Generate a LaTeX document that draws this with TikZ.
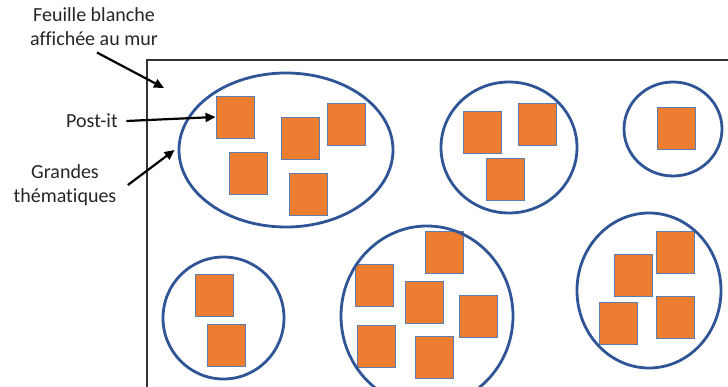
\documentclass[tikz,border=0pt]{standalone}
\usepackage{fontspec}
\setmainfont{Carlito}[Ligatures=NoCommon]
\usetikzlibrary{shapes.geometric,arrows.meta}
\definecolor{ringblue}{HTML}{2F5597}
\definecolor{postorange}{HTML}{ED7D31}
\definecolor{postedge}{HTML}{5B7DB0}
\definecolor{inkgray}{HTML}{262626}
\begin{document}
\begin{tikzpicture}[x=1pt,y=-1pt,
  postit/.style={rectangle,draw=postedge,line width=0.9pt,fill=postorange,
    minimum width=38pt,minimum height=42pt,inner sep=0pt},
  ring/.style={ellipse,draw=ringblue,line width=2.8pt,inner sep=0pt},
  lbl/.style={font=\fontsize{20}{24}\selectfont,align=center,text=inkgray},
  arr/.style={draw=black,line width=2.2pt,-{Triangle[length=10pt,width=9pt]}}]
\useasboundingbox (0,0) rectangle (728,387);
\clip (0,0) rectangle (728,387);
\fill[white] (0,0) rectangle (728,387);
% sheet of paper
\draw[draw=black!80,line width=1.4pt] (147,60) rectangle (760,420);
% post-its
\node[postit] (a1) at (235,117) {};
\node[postit] (a2) at (300,138) {};
\node[postit] (a3) at (346.5,124) {};
\node[postit] (a4) at (248.5,173) {};
\node[postit] (a5) at (308,194) {};
\node[postit] (b1) at (482,132) {};
\node[postit] (b2) at (537.5,124.5) {};
\node[postit] (b3) at (505,179.5) {};
\node[postit] (c1) at (676,128.5) {};
\node[postit] (d1) at (214,295) {};
\node[postit] (d2) at (226,345.5) {};
\node[postit] (e1) at (444,252) {};
\node[postit] (e2) at (374,285) {};
\node[postit] (e3) at (424,302.5) {};
\node[postit] (e4) at (478,316) {};
\node[postit] (e5) at (376,346) {};
\node[postit] (e6) at (434,357.5) {};
\node[postit] (f1) at (675.5,252) {};
\node[postit] (f2) at (633,275.5) {};
\node[postit] (f3) at (618,323) {};
\node[postit] (f4) at (675.5,317.5) {};
% themes
\node[ring,minimum width=214pt,minimum height=154pt] (g1) at (286,150) {};
\node[ring,minimum width=136pt,minimum height=131pt] (g2) at (509,147.5) {};
\node[ring,minimum width=98pt,minimum height=94pt] (g3) at (673,129) {};
\node[ring,minimum width=121pt,minimum height=122pt] (g4) at (223.5,318) {};
\node[ring,minimum width=172pt,minimum height=180pt] (g5) at (427,316) {};
\node[ring,minimum width=144pt,minimum height=155pt] (g6) at (649,290.5) {};
% labels
\node[lbl] (feuille) at (94,27) {Feuille blanche\\affichée au mur};
\node[lbl] (postitlbl) at (92,121) {Post-it};
\node[lbl] (grandes) at (65,185) {Grandes\\thématiques};
\coordinate (sheetpt) at (164,88);
\draw[arr] ([xshift=3pt,yshift=-3pt]feuille.south) -- (sheetpt);
\draw[arr] ([xshift=5pt]postitlbl.east) -- (a1.west);
\draw[arr] ([xshift=8pt]grandes.east) -- ([xshift=-3pt]g1.west);
\end{tikzpicture}
\end{document}
